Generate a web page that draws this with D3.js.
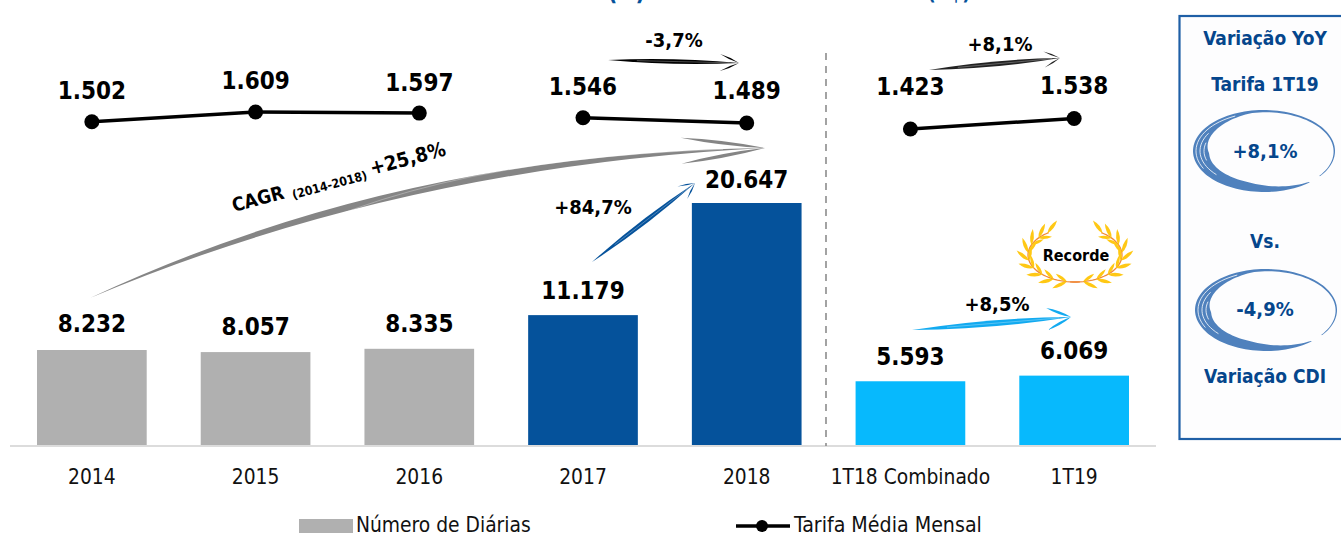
<!DOCTYPE html>
<html><head><meta charset="utf-8">
<script src="https://cdn.jsdelivr.net/npm/d3@7/dist/d3.min.js"></script>
<style>html,body{margin:0;padding:0;background:#fff;overflow:hidden}svg{display:block}text{font-family:"DejaVu Sans Condensed","DejaVu Sans",sans-serif}</style>
</head><body><svg id="c" width="1341" height="534"></svg>
<script>
const categories=["2014","2015","2016","2017","2018","1T18 Combinado","1T19"];
const diarias=[8232,8057,8335,11179,20647,5593,6069];
const tarifa=[1502,1609,1597,1546,1489,1423,1538];
const barColors=["#b0b0b0","#b0b0b0","#b0b0b0","#05529b","#05529b","#07b9fd","#07b9fd"];
const lineGroups=[[0,1,2],[3,4],[5,6]];
const barLabels=["8.232","8.057","8.335","11.179","20.647","5.593","6.069"];
const lineLabels=["1.502","1.609","1.597","1.546","1.489","1.423","1.538"];
const lineLabelDy=[-23,-23,-22,-23,-24,-34,-24];
const barLabelBase=[332,335,332,299,188,365,359];

const svg=d3.select("#c");
const x=d3.scaleBand().domain(categories).range([10,1156]).paddingInner(.33).paddingOuter(.165);
const yb=d3.scaleLinear().domain([0,20647]).range([447.5,203]);
const yl=d3.scaleLinear().domain([1423,1609]).range([129,112]);
const cx=c=>x(c)+x.bandwidth()/2;
const fmtBold=(sel,s)=>sel.attr("font-weight","bold").attr("font-size",s).attr("fill","#000").attr("text-anchor","middle");

// heading cropped by the top edge
svg.append("text").attr("x",626.5).attr("y",0).attr("font-size",24).attr("font-weight","bold").attr("fill","#05529b").attr("text-anchor","middle").text("(#)");
svg.append("text").attr("x",949).attr("y",0).attr("font-size",20).attr("font-weight","bold").attr("fill","#05529b").attr("text-anchor","middle").text("(R$)");

// bars
svg.selectAll("rect.bar").data(categories).join("rect").attr("class","bar")
 .attr("x",d=>x(d)).attr("width",x.bandwidth())
 .attr("y",(d,i)=>yb(diarias[i])).attr("height",(d,i)=>446-yb(diarias[i]))
 .attr("fill",(d,i)=>barColors[i]);
svg.append("line").attr("x1",10).attr("x2",1156).attr("y1",446).attr("y2",446).attr("stroke","#dcdcdc").attr("stroke-width",2);
svg.selectAll("text.cat").data(categories).join("text").attr("class","cat")
 .attr("x",cx).attr("y",484).attr("text-anchor","middle").attr("font-size",20.8).attr("fill","#111").text(d=>d);
svg.selectAll("text.bv").data(categories).join("text").attr("class","bv")
 .attr("x",cx).attr("y",(d,i)=>barLabelBase[i])
 .call(fmtBold,24).text((d,i)=>barLabels[i]);
// lines
const ln=d3.line().x(i=>cx(categories[i])).y(i=>yl(tarifa[i]));
svg.selectAll("path.tl").data(lineGroups).join("path").attr("class","tl").attr("d",ln).attr("fill","none").attr("stroke","#000").attr("stroke-width",3.5);
svg.selectAll("circle.tp").data(categories).join("circle").attr("class","tp").attr("cx",cx).attr("cy",(d,i)=>yl(tarifa[i])).attr("r",7.5).attr("fill","#000");
svg.selectAll("text.lv").data(categories).join("text").attr("class","lv")
 .attr("x",cx).attr("y",(d,i)=>yl(tarifa[i])+lineLabelDy[i])
 .call(fmtBold,24).text((d,i)=>lineLabels[i]);

// divider
svg.append("line").attr("x1",826).attr("x2",826).attr("y1",53).attr("y2",446).attr("stroke","#8c8c8c").attr("stroke-width",1.6).attr("stroke-dasharray","7 6");

// brush arrows: tapered lens body plus two lens barbs
function brush(x0,y0,x1,y1,cxx,cyy,color,w,headLen,headW,barbT){
  const g=svg.append("g");
  const c=[cxx??(x0+x1)/2,cyy??(y0+y1)/2];
  const dx=x1-c[0],dy=y1-c[1],L=Math.hypot(dx,dy),ux=dx/L,uy=dy/L,nx=-uy,ny=ux;
  g.append("path").attr("fill",color).attr("d",`M${x0},${y0}Q${c[0]-nx*w},${c[1]-ny*w} ${x1},${y1}Q${c[0]+nx*w},${c[1]+ny*w} ${x0},${y0}Z`);
  g.append("path").attr("fill","none").attr("stroke","#fff").attr("stroke-opacity",.5).attr("stroke-width",.6).attr("d",`M${x0+(x1-x0)*.22},${y0+(y1-y0)*.22}Q${c[0]},${c[1]} ${x1-ux*headLen*.5},${y1-uy*headLen*.5}`);
  [1,-1].forEach(s=>{
    const bx=x1-ux*headLen+nx*headW*s,by=y1-uy*headLen+ny*headW*s;
    const mx=(bx+x1)/2,my=(by+y1)/2;
    const a=Math.atan2(y1-by,x1-bx),px=-Math.sin(a)*barbT,py=Math.cos(a)*barbT;
    g.append("path").attr("fill",color).attr("d",`M${bx},${by}Q${mx+px},${my+py} ${x1},${y1}Q${mx-px},${my-py} ${bx},${by}Z`);
  });
}
brush(608,60,739,63,null,null,"#000",4.5,19,8.5,1.6);
brush(929,70,1060,58,null,null,"#222",5,16,8,1.5);
brush(90,298,765,148,400,160,"#858585",7,84,13,3.4);
brush(592,262,695,183,null,null,"#05529b",5,16,8,1.6);
brush(912,330,1071,317,null,null,"#12aaf0",6,24,11,2.6);

// annotation labels
const ann=[["-3,7%",674,47],["+8,1%",1000,51],["+84,7%",593,214],["+8,5%",997,311]];
svg.selectAll("text.ann").data(ann).join("text").attr("class","ann").attr("x",d=>d[1]).attr("y",d=>d[2]).call(fmtBold,20).text(d=>d[0]);
const cagr=svg.append("text").attr("transform","translate(234,212) rotate(-15)").attr("font-weight","bold").attr("fill","#000").attr("font-size",19);
cagr.append("tspan").text("CAGR ");
cagr.append("tspan").attr("font-size",12.4).attr("dy",3).attr("dx",2).text("(2014-2018)");
cagr.append("tspan").attr("font-size",20).attr("dy",-3).attr("dx",5).text("+25,8%");

// laurel
const lcx=1075,lcy=255,rx=47,ry=27;
const leaf="M0,0Q7,-4 16,0Q7,3.5 0,0Z";
const leafAngles=[100,117,134,151,168,185,202,219,234];
[1,-1].forEach(s=>{
  const g=svg.append("g").attr("transform",`translate(${lcx},${lcy}) scale(${s},1)`);
  const pt=t=>[rx*Math.cos(t*Math.PI/180),ry*Math.sin(t*Math.PI/180)];
  g.append("path").attr("d",d3.line()(d3.range(84,238,4).map(pt))).attr("fill","none").attr("stroke","#f08a3c").attr("stroke-width",1.3);
  leafAngles.forEach((t,i)=>{
    const r=t*Math.PI/180,[px,py]=pt(t);
    const ang=Math.atan2(ry*Math.cos(r),-rx*Math.sin(r))*180/Math.PI;
    g.append("path").attr("d",leaf).attr("fill","#ffc814").attr("transform",`translate(${px},${py}) rotate(${ang-30})`);
    if(i<8) g.append("path").attr("d",leaf).attr("fill","#ffc814").attr("transform",`translate(${px},${py}) rotate(${ang+30}) scale(.85)`);
  });
});
svg.append("text").attr("x",1076).attr("y",261).call(fmtBold,16).text("Recorde");

// side panel
svg.append("rect").attr("x",1179.5).attr("y",16).attr("width",170).attr("height",423).attr("fill","#fdfdfe").attr("stroke","#1f5fa6").attr("stroke-width",2.2);
function swirl(cx0,cy0,rx0,ry0){
  const g=svg.append("g");
  const ang=d3.range(-38,313,3);
  const thick=a=>{
    if(a<100) return .8+2.2*Math.max(0,(a+38)/138);
    if(a<185) return 3+13*(a-100)/85;
    if(a<255) return 16-5*(a-185)/70;
    return Math.max(.5,11-10.5*(a-255)/57);
  };
  const outer=ang.map(a=>{const r=a*Math.PI/180;return [cx0+rx0*Math.cos(r),cy0-ry0*Math.sin(r)];});
  const inner=ang.map(a=>{const r=a*Math.PI/180,w=thick(a);return [cx0+(rx0-w)*Math.cos(r),cy0-(ry0-w*.8)*Math.sin(r)];}).reverse();
  g.append("path").attr("d",d3.line()(outer.concat(inner))+"Z").attr("fill","#4f81bd");
  [[3,115,210],[7,150,225],[11,165,200]].forEach(([d,a0,a1])=>{
    const p=d3.range(a0,a1,4).map(a=>{const r=a*Math.PI/180;return [cx0+(rx0-d)*Math.cos(r),cy0-(ry0-d*.8)*Math.sin(r)];});
    g.append("path").attr("d",d3.line()(p)).attr("fill","none").attr("stroke","#fff").attr("stroke-width",.8);
  });
}
swirl(1264,151,71,41);
swirl(1266,310,71,41);
const panel=[["Variação YoY",1265,45,19],["Tarifa 1T19",1265,91,19],["+8,1%",1265,158,20],["Vs.",1265,248,19],["-4,9%",1265,316,20],["Variação CDI",1265,383,19]];
svg.selectAll("text.pn").data(panel).join("text").attr("class","pn").attr("x",d=>d[1]).attr("y",d=>d[2]).attr("font-size",d=>d[3]).attr("font-weight","bold").attr("fill","#05468c").attr("text-anchor","middle").text(d=>d[0]);

// legend
svg.append("rect").attr("x",299).attr("y",519).attr("width",54).attr("height",14).attr("fill","#b0b0b0");
svg.append("text").attr("x",356).attr("y",532).attr("font-size",20.8).attr("fill","#111").text("Número de Diárias");
svg.append("line").attr("x1",736).attr("x2",790).attr("y1",526).attr("y2",526).attr("stroke","#000").attr("stroke-width",3.5);
svg.append("circle").attr("cx",762).attr("cy",526).attr("r",6).attr("fill","#000");
svg.append("text").attr("x",794).attr("y",532).attr("font-size",21.2).attr("fill","#111").text("Tarifa Média Mensal");
</script></body></html>
